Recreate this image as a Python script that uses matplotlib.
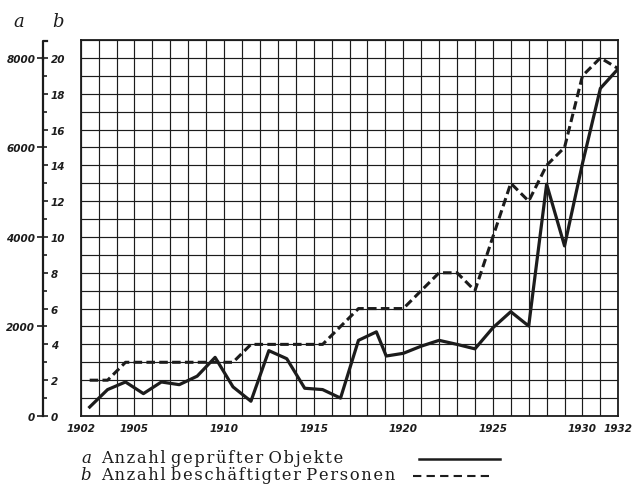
import matplotlib
matplotlib.use("Agg")
import matplotlib.pyplot as plt
from matplotlib.lines import Line2D

# data (x = position on the year scale)
years = [1902.5, 1903.5, 1904.5, 1905.5, 1906.5, 1907.5, 1908.5, 1909.5,
         1910.5, 1911.5, 1912.5, 1913.5, 1914.5, 1915.5, 1916.5, 1917.5,
         1918.5, 1919.05, 1920, 1921, 1922, 1923, 1924, 1925, 1926, 1927,
         1928, 1929, 1930, 1931, 1932]
# a: Anzahl geprüfter Objekte
objekte = [200, 590, 760, 500, 760, 700, 890, 1310, 650, 330, 1460, 1280,
           620, 590, 400, 1690, 1880, 1340, 1400, 1560, 1690, 1600, 1500,
           1970, 2330, 2010, 5180, 3800, 5640, 7320, 7760]
# b: Anzahl beschäftigter Personen
personen = [2, 2, 3, 3, 3, 3, 3, 3, 3, 4, 4, 4, 4, 4, 5, 6, 6, 6, 6, 7, 8,
            8, 7, 10, 13, 12, 14, 15, 19, 20, 19.4]

year_ticks = [1902, 1905, 1910, 1915, 1920, 1925, 1930, 1932]
a_ticks = [0, 2000, 4000, 6000, 8000]
b_ticks = [0, 2, 4, 6, 8, 10, 12, 14, 16, 18, 20]

ink = "#1c1c1c"
num_font = dict(family="DejaVu Sans", weight="bold", style="italic", size=7.5)

fig = plt.figure(figsize=(6.32, 4.89), dpi=100)
bottom, height = 72 / 489, 376 / 489

# grid area
ax = fig.add_axes([80.7 / 632, bottom, 537.6 / 632, height])
ax.set_xlim(1902, 1932)
ax.set_ylim(0, 21)
ax.set_xticks(year_ticks)
ax.set_xticklabels([str(y) for y in year_ticks], fontdict=num_font, color=ink)
ax.set_xticks(range(1902, 1933), minor=True)
ax.set_yticks(range(0, 22))
ax.tick_params(which="both", length=0, labelleft=False, pad=5)
ax.grid(True, which="both", color=ink, lw=0.85)
for s in ax.spines.values():
    s.set_color(ink)
    s.set_linewidth(1.3)

ax.plot(years, personen, color=ink, lw=2.2, dashes=(2.8, 1.4), zorder=5)
axa_grid = ax.twinx()
axa_grid.set_ylim(0, 8400)
axa_grid.axis("off")
axa_grid.plot(years, objekte, color=ink, lw=2.3, zorder=5)

# left scale: a on the left side, b on the right side of one line
axa = fig.add_axes([43 / 632, bottom, 0.0001, 20 / 21 * height])
axa.set_ylim(0, 8000)
axa.set_yticks(a_ticks)
axa.set_yticklabels([str(v) for v in a_ticks], fontdict=num_font, color=ink)
axa.tick_params(axis="y", direction="out", length=4, width=1.2, color=ink, pad=1.5)
axa.set_xticks([])
for k in ["top", "right", "bottom"]:
    axa.spines[k].set_visible(False)
axa.spines["left"].set_linewidth(1.6)
axa.spines["left"].set_color(ink)

axb = axa.twinx()
axb.set_ylim(0, 20)
axb.set_yticks(b_ticks)
axb.set_yticklabels([str(v) for v in b_ticks], fontdict=num_font, color=ink)
axb.set_yticks(range(1, 20, 2), minor=True)
axb.tick_params(axis="y", which="major", direction="out", length=3.5, width=1.2, color=ink, pad=2)
axb.tick_params(axis="y", which="minor", direction="out", length=3, width=1.2, color=ink)
for s in axb.spines.values():
    s.set_visible(False)
# top of the scale line with its small hook
fig.add_artist(Line2D([43 / 632, 43 / 632, 47 / 632],
                      [1 - 60 / 489, 1 - 42 / 489, 1 - 42 / 489],
                      color=ink, lw=1.6))

# axis letters
serif = dict(family=["DejaVu Serif", "DejaVu Sans"], color=ink)
fig.text(19 / 632, 1 - 22 / 489, "a", style="italic", size=13, ha="center", va="center", **serif)
fig.text(58 / 632, 1 - 22 / 489, "b", style="italic", size=13, ha="center", va="center", **serif)


def spaced(s):
    # slightly wider letter spacing, like the printed original
    return " ".join("\u200a".join(w) for w in s.split(" "))


# legend below
fig.text(86 / 632, 1 - 459 / 489, "a", style="italic", size=12, ha="center", va="center", **serif)
fig.text(101 / 632, 1 - 459 / 489, spaced("Anzahl geprüfter Objekte"), size=11.8,
         va="center", **serif)
fig.add_artist(Line2D([419 / 632, 500 / 632], [1 - 460 / 489, 1 - 460 / 489], color=ink, lw=1.8))
fig.text(86 / 632, 1 - 476 / 489, "b", style="italic", size=12, ha="center", va="center", **serif)
fig.text(101 / 632, 1 - 476 / 489, spaced("Anzahl beschäftigter Personen"), size=11.8,
         va="center", **serif)
fig.add_artist(Line2D([413 / 632, 489 / 632], [1 - 477 / 489, 1 - 477 / 489], color=ink,
                      lw=1.5, dashes=(4, 2.5)))

fig.savefig("out.png", dpi=100, facecolor="white")
